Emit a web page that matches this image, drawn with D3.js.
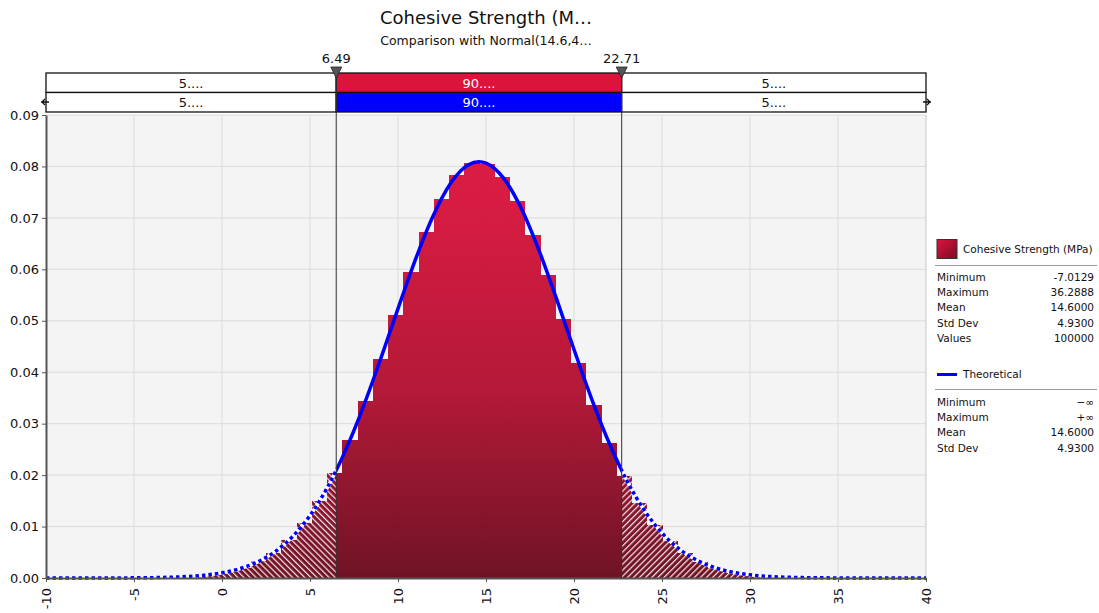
<!DOCTYPE html>
<html>
<head>
<meta charset="utf-8">
<script src="https://cdn.jsdelivr.net/npm/d3@7"></script>
<style>
body { margin: 0; background: #fff; }
text { font-family: "DejaVu Sans", sans-serif; }
</style>
</head>
<body>
<svg id="mainsvg"></svg>
<script>
// histogram: 50 bins from the sample minimum, density per bin
const binStart = -7.0129, binWidth = 0.86603;
const binDensity = [
    0.00001, 0.00002, 0.00003, 0.00007, 0.00013, 0.00024, 0.00042, 0.00074, 0.00124, 0.00203,
    0.00322, 0.00495, 0.00739, 0.01068, 0.01498, 0.02037, 0.02685, 0.03432, 0.04254, 0.05112,
    0.05957, 0.06730, 0.07373, 0.07832, 0.08066, 0.08056, 0.07800, 0.07324, 0.06666, 0.05885,
    0.05037, 0.04180, 0.03363, 0.02624, 0.01985, 0.01456, 0.01035, 0.00714, 0.00477, 0.00309,
    0.00195, 0.00119, 0.00070, 0.00040, 0.00022, 0.00012, 0.00006, 0.00003, 0.00002, 0.00001
];
// theoretical curve read at whole x values (plus the peak)
const curveX = [-10, -9, -8, -7, -6, -5, -4, -3, -2, -1, 0, 1, 2, 3, 4, 5, 6, 7, 8, 9, 10, 11, 12, 13, 14, 14.6,
    15, 16, 17, 18, 19, 20, 21, 22, 23, 24, 25, 26, 27, 28, 29, 30, 31, 32, 33, 34, 35, 36, 37, 38, 39, 40];
const curveY = [0, 0.000001, 0.000002, 0.000006, 0.000013, 0.00003, 0.000066, 0.000138, 0.000279, 0.000542,
    0.00101, 0.00180, 0.00309, 0.00508, 0.00803, 0.01215, 0.01768, 0.02466, 0.03303, 0.04245, 0.05236,
    0.06199, 0.07042, 0.07677, 0.08032, 0.08092, 0.08065, 0.07772, 0.07188, 0.06379, 0.05434, 0.04442,
    0.03484, 0.02623, 0.01895, 0.01314, 0.00875, 0.00559, 0.00342, 0.00201, 0.00114, 0.000615, 0.00032,
    0.00016, 0.000076, 0.000035, 0.000015, 0.000006, 0.000002, 0.000001, 0, 0];
const markers = [6.49, 22.71];
const bandSim = ["5....", "90....", "5...."];
const bandFit = ["5....", "90....", "5...."];
const xTicks = [-10, -5, 0, 5, 10, 15, 20, 25, 30, 35, 40];
const yTicks = [0, 0.01, 0.02, 0.03, 0.04, 0.05, 0.06, 0.07, 0.08, 0.09];
const simLabels = ["Minimum", "Maximum", "Mean", "Std Dev", "Values"];
const simValues = ["-7.0129", "36.2888", "14.6000", "4.9300", "100000"];
const fitLabels = ["Minimum", "Maximum", "Mean", "Std Dev"];
const fitValues = ["\u2212\u221e", "+\u221e", "14.6000", "4.9300"];

let mainsvg = d3.select("#mainsvg"),
    svgWidth = 1099,
    svgHeight = 613,
    plot = {left: 46, right: 926, top: 115, bottom: 578},
    scaleX = d3.scaleLinear().domain([-10, 40]).range([plot.left, plot.right]),
    scaleY = d3.scaleLinear().domain([0, 0.09]).range([plot.bottom, plot.top]);

mainsvg.attr("width", svgWidth).attr("height", svgHeight);

let defs = mainsvg.append("defs");
let grad = defs.append("linearGradient").attr("id", "barGrad")
    .attr("gradientUnits", "userSpaceOnUse")
    .attr("x1", 0).attr("x2", 0).attr("y1", plot.top).attr("y2", plot.bottom);
grad.append("stop").attr("offset", 0).attr("stop-color", "#dc143c");
grad.append("stop").attr("offset", 0.2).attr("stop-color", "#d6133a");
grad.append("stop").attr("offset", 0.6).attr("stop-color", "#b11031");
grad.append("stop").attr("offset", 1).attr("stop-color", "#6a0a1d");

let swGrad = defs.append("linearGradient").attr("id", "swatchGrad")
    .attr("x1", 0).attr("x2", 1).attr("y1", 0).attr("y2", 1);
swGrad.append("stop").attr("offset", 0).attr("stop-color", "#dc143c");
swGrad.append("stop").attr("offset", 1).attr("stop-color", "#7a0c24");

[["hatchLeft", -45], ["hatchRight", 45]].forEach(p => {
    let pat = defs.append("pattern").attr("id", p[0])
        .attr("patternUnits", "userSpaceOnUse")
        .attr("width", 4.3).attr("height", 10)
        .attr("patternTransform", `rotate(${p[1]})`);
    pat.append("rect").attr("x", 0).attr("y", 0).attr("width", 1.2).attr("height", 10).attr("fill", "#fff");
});

let m0 = scaleX(markers[0]), m1 = scaleX(markers[1]);
[["clipLeft", plot.left - 2, m0], ["clipMid", m0, m1], ["clipRight", m1, plot.right + 3]].forEach(c => {
    defs.append("clipPath").attr("id", c[0]).append("rect")
        .attr("x", c[1]).attr("y", 100).attr("width", c[2] - c[1]).attr("height", plot.bottom + 4 - 100);
});

// titles
mainsvg.append("text").attr("x", 486).attr("y", 24).attr("text-anchor", "middle")
    .attr("font-size", 18).attr("fill", "#111").text("Cohesive Strength (M\u2026");
mainsvg.append("text").attr("x", 486).attr("y", 45).attr("text-anchor", "middle")
    .attr("font-size", 12.5).attr("fill", "#111").text("Comparison with Normal(14.6,4\u2026");

// plot background and grid
mainsvg.append("rect").attr("x", plot.left).attr("y", plot.top)
    .attr("width", plot.right - plot.left).attr("height", plot.bottom - plot.top).attr("fill", "#f4f4f4");
let grid = mainsvg.append("g").attr("stroke", "#dcdcdc").attr("stroke-width", 1);
grid.selectAll("line.gx").data(xTicks.slice(1, -1)).enter().append("line")
    .attr("x1", d => scaleX(d)).attr("x2", d => scaleX(d))
    .attr("y1", plot.top).attr("y2", plot.bottom);
grid.selectAll("line.gy").data(yTicks.slice(1)).enter().append("line")
    .attr("x1", plot.left).attr("x2", plot.right)
    .attr("y1", d => scaleY(d)).attr("y2", d => scaleY(d));
mainsvg.append("line").attr("x1", plot.right).attr("x2", plot.right)
    .attr("y1", plot.top).attr("y2", plot.bottom).attr("stroke", "#c8c8c8");

// histogram pieces split at the markers
let regions = [[-Infinity, markers[0], "left"], [markers[0], markers[1], "mid"], [markers[1], Infinity, "right"]];
let pieces = [];
binDensity.forEach((h, k) => {
    let lo = binStart + k * binWidth, hi = lo + binWidth;
    regions.forEach(r => {
        let a = Math.max(lo, r[0]), b = Math.min(hi, r[1]);
        if (b > a) pieces.push({a: a, b: b, h: h, side: r[2]});
    });
});
let bars = mainsvg.append("g").attr("shape-rendering", "crispEdges");
bars.selectAll("rect.bar").data(pieces).enter().append("rect")
    .attr("class", "bar")
    .attr("x", d => scaleX(d.a))
    .attr("width", d => scaleX(d.b) - scaleX(d.a))
    .attr("y", d => scaleY(d.h))
    .attr("height", d => scaleY(0) - scaleY(d.h))
    .attr("fill", "url(#barGrad)")
    .attr("fill-opacity", 0.96);
bars.selectAll("rect.hatch").data(pieces.filter(d => d.side !== "mid")).enter().append("rect")
    .attr("class", "hatch")
    .attr("x", d => scaleX(d.a))
    .attr("width", d => scaleX(d.b) - scaleX(d.a))
    .attr("y", d => scaleY(d.h))
    .attr("height", d => scaleY(0) - scaleY(d.h))
    .attr("fill", d => d.side === "left" ? "url(#hatchLeft)" : "url(#hatchRight)")
    .attr("fill-opacity", 0.9);

// theoretical curve
let pts = curveX.map((v, i) => [v, curveY[i]]);
let line = d3.line().x(d => scaleX(d[0])).y(d => scaleY(d[1])).curve(d3.curveMonotoneX);
["clipLeft", "clipRight"].forEach(c => {
    mainsvg.append("path").attr("d", line(pts)).attr("clip-path", `url(#${c})`)
        .attr("fill", "none").attr("stroke", "#fff").attr("stroke-width", 3.5);
    mainsvg.append("path").attr("d", line(pts)).attr("clip-path", `url(#${c})`)
        .attr("fill", "none").attr("stroke", "#0000ff").attr("stroke-width", 3.5)
        .attr("stroke-dasharray", "3.5,3");
});
mainsvg.append("path").attr("d", line(pts)).attr("clip-path", "url(#clipMid)")
    .attr("fill", "none").attr("stroke", "#0000ff").attr("stroke-width", 3.5)
    .attr("stroke-linejoin", "round");

// axes
let yAxis = mainsvg.append("g").attr("transform", `translate(${plot.left},0)`)
    .call(d3.axisLeft(scaleY).tickValues(yTicks).tickFormat(d3.format(".2f")).tickSize(4).tickSizeOuter(0));
let xAxis = mainsvg.append("g").attr("transform", `translate(0,${plot.bottom})`)
    .call(d3.axisBottom(scaleX).tickValues(xTicks).tickFormat(d => String(d)).tickSize(4).tickSizeOuter(0));
[yAxis, xAxis].forEach(ax => {
    ax.select(".domain").attr("stroke", "#555").attr("stroke-width", 2);
    ax.selectAll(".tick line").attr("stroke", "#555");
    ax.selectAll(".tick text").attr("font-size", 13).attr("fill", "#111")
        .attr("font-family", "DejaVu Sans, sans-serif");
});
yAxis.selectAll(".tick text").attr("x", -7);
xAxis.selectAll(".tick text")
    .attr("x", -10).attr("y", 0).attr("dy", "0.35em")
    .attr("transform", "rotate(-90)").style("text-anchor", "end");

// band rows above the plot
let segs = [[-10, markers[0]], [markers[0], markers[1]], [markers[1], 40]];
let rows = [{y: 73, labels: bandSim, fill: "#dc143c"}, {y: 92.5, labels: bandFit, fill: "#0000ff"}];
rows.forEach(r => {
    let g = mainsvg.append("g");
    g.selectAll("rect").data(segs).enter().append("rect")
        .attr("x", d => scaleX(d[0])).attr("width", d => scaleX(d[1]) - scaleX(d[0]))
        .attr("y", r.y).attr("height", 19.5)
        .attr("fill", (d, i) => i === 1 ? r.fill : "#fff")
        .attr("stroke", "#111").attr("stroke-width", 1.3);
    g.selectAll("text").data(segs).enter().append("text")
        .attr("x", d => (scaleX(d[0]) + scaleX(d[1])) / 2).attr("y", r.y + 14.5)
        .attr("text-anchor", "middle").attr("font-size", 13)
        .attr("fill", (d, i) => i === 1 ? "#fff" : "#111")
        .text((d, i) => r.labels[i]);
});
// small end arrows on the fitted row
mainsvg.append("path")
    .attr("d", `M${plot.left - 5},102 H${plot.left + 3} M${plot.left - 1},99 L${plot.left - 4},102 L${plot.left - 1},105`
        + ` M${plot.right - 3},102 H${plot.right + 5} M${plot.right + 1},99 L${plot.right + 4},102 L${plot.right + 1},105`)
    .attr("fill", "none").attr("stroke", "#111").attr("stroke-width", 1.3);

// markers
let mk = mainsvg.append("g").selectAll("g").data(markers).enter().append("g");
mk.append("line").attr("x1", d => scaleX(d)).attr("x2", d => scaleX(d))
    .attr("y1", 73).attr("y2", plot.bottom).attr("stroke", "#333").attr("stroke-width", 1);
mk.append("path").attr("d", d => `M${scaleX(d) - 5.5},67 L${scaleX(d) + 5.5},67 L${scaleX(d)},78 Z`)
    .attr("fill", "#555").attr("stroke", "#222").attr("stroke-width", 0.8);
mk.append("text").attr("x", d => scaleX(d)).attr("y", 63).attr("text-anchor", "middle")
    .attr("font-size", 13).attr("fill", "#111").text(d => d.toFixed(2));

// legend
let lg = mainsvg.append("g").attr("font-size", 10.5).attr("fill", "#111");
lg.append("rect").attr("x", 937).attr("y", 239.5).attr("width", 20).attr("height", 19)
    .attr("fill", "url(#swatchGrad)").attr("stroke", "#333").attr("stroke-width", 1);
lg.append("text").attr("x", 963).attr("y", 253).text("Cohesive Strength (MPa)");
lg.append("line").attr("x1", 935).attr("x2", 1097).attr("y1", 265.5).attr("y2", 265.5).attr("stroke", "#999");
simLabels.forEach((s, i) => {
    lg.append("text").attr("x", 937).attr("y", 281 + i * 15.2).text(s);
    lg.append("text").attr("x", 1094).attr("y", 281 + i * 15.2).attr("text-anchor", "end").text(simValues[i]);
});
lg.append("line").attr("x1", 937).attr("x2", 957).attr("y1", 374.5).attr("y2", 374.5)
    .attr("stroke", "#0000ff").attr("stroke-width", 3);
lg.append("text").attr("x", 963).attr("y", 378).text("Theoretical");
lg.append("line").attr("x1", 935).attr("x2", 1097).attr("y1", 389.5).attr("y2", 389.5).attr("stroke", "#999");
fitLabels.forEach((s, i) => {
    lg.append("text").attr("x", 937).attr("y", 406 + i * 15.2).text(s);
    lg.append("text").attr("x", 1094).attr("y", 406 + i * 15.2).attr("text-anchor", "end").text(fitValues[i]);
});
</script>
</body>
</html>
